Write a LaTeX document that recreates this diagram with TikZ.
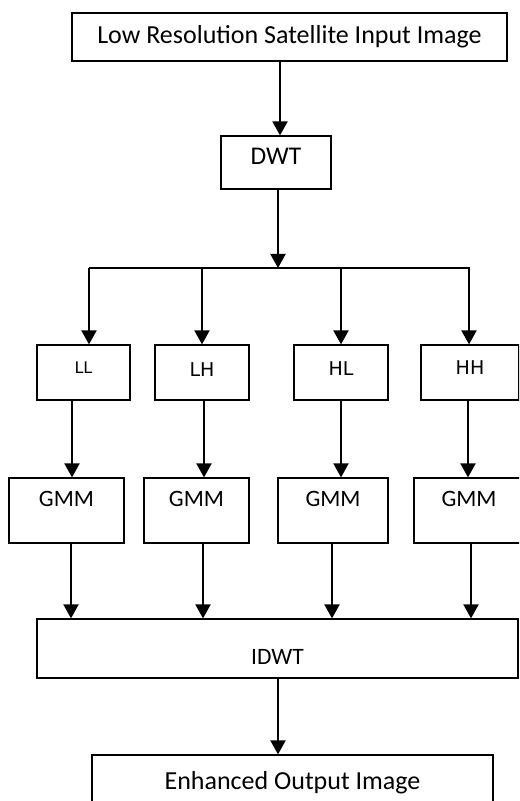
\documentclass[tikz,border=0pt]{standalone}
\usepackage{fontspec}
\setmainfont{Carlito}
\newfontfamily\djv{DejaVu Sans}
\usetikzlibrary{arrows.meta}

\begin{document}
\begin{tikzpicture}[x=0.5pt, y=-0.5pt,
    blk/.style = {draw, rectangle, line width=0.6pt, inner sep=0pt},
    arr/.style = {line width=1pt, -{Triangle[width=7.5pt, length=7pt]}}]
  \useasboundingbox (0,0) rectangle (519,801);
  \clip (0,0) rectangle (519,801);

  \node[blk, minimum width=217.5pt, minimum height=24pt, font=\fontsize{13}{15}\selectfont,
        text height=8.4pt, text depth=1.5pt] (in) at (289.5,37) {Low Resolution Satellite Input Image};
  \node[blk, minimum width=55pt, minimum height=26.5pt, font=\fontsize{12.75}{15}\selectfont,
        text height=8.2pt, text depth=6.5pt] (dwt) at (276,162.5) {DWT};

  \node[blk, minimum width=46.5pt, minimum height=27.5pt, font=\djv\fontsize{8}{10}\selectfont,
        text height=5.8pt, text depth=4.5pt] (ll) at (83.5,372.5) {LL};
  \node[blk, minimum width=47pt, minimum height=27.5pt, font=\djv\fontsize{9.5}{11}\selectfont,
        text height=6.9pt, text depth=2.5pt] (lh) at (202,372.5) {LH};
  \node[blk, minimum width=47pt, minimum height=27.5pt, font=\djv\fontsize{9.5}{11}\selectfont,
        text height=6.9pt, text depth=4pt] (hl) at (341,372.5) {HL};
  \node[blk, minimum width=49pt, minimum height=27.5pt, font=\djv\fontsize{9.5}{11}\selectfont,
        text height=6.9pt, text depth=5pt] (hh) at (470,372.5) {HH};

  \node[blk, minimum width=57.5pt, minimum height=32.5pt, font=\fontsize{11.75}{14}\selectfont,
        text height=7.6pt, text depth=11.5pt] (g1) at (66.5,510.5) {GMM};
  \node[blk, minimum width=52.5pt, minimum height=32.5pt, font=\fontsize{11.75}{14}\selectfont,
        text height=7.6pt, text depth=11.5pt] (g2) at (196.5,510.5) {GMM};
  \node[blk, minimum width=55pt, minimum height=32.5pt, font=\fontsize{11.75}{14}\selectfont,
        text height=7.6pt, text depth=11.5pt] (g3) at (333,510.5) {GMM};
  \node[blk, minimum width=55pt, minimum height=32.5pt, font=\fontsize{11.75}{14}\selectfont,
        text height=7.6pt, text depth=11.5pt] (g4) at (469,510.5) {GMM};

  \node[blk, minimum width=240.5pt, minimum height=29.5pt, font=\fontsize{11.75}{14}\selectfont,
        text height=15.6pt, text depth=0pt] (idwt) at (277.5,648.5) {IDWT};
  \node[blk, minimum width=200.5pt, minimum height=30pt, font=\fontsize{13}{15}\selectfont,
        text height=8.4pt, text depth=4pt] (out) at (292.5,785) {Enhanced Output Image};

  \coordinate (t)   at (280,0);
  \coordinate (bus) at (278,268);
  \coordinate (b1)  at (89,268);
  \coordinate (b2)  at (202,268);
  \coordinate (b3)  at (341,268);
  \coordinate (b4)  at (469,268);
  \coordinate (b5)  at (470,268);
  \foreach \n/\x in {1/72,2/204,3/341,4/468} \coordinate (c\n) at (\x,0);
  \foreach \n/\x in {1/71,2/203,3/332,4/471} \coordinate (d\n) at (\x,0);

  \draw[arr] (in.south -| t) -- (dwt.north -| t);
  \draw[arr] (dwt.south -| bus) -- (bus);
  \draw[line width=1pt] (b1) -- (b5);
  \draw[arr] (b1) -- (ll.north -| b1);
  \draw[arr] (b2) -- (lh.north -| b2);
  \draw[arr] (b3) -- (hl.north -| b3);
  \draw[arr] (b4) -- (hh.north -| b4);

  \draw[arr] (ll.south -| c1) -- (g1.north -| c1);
  \draw[arr] (lh.south -| c2) -- (g2.north -| c2);
  \draw[arr] (hl.south -| c3) -- (g3.north -| c3);
  \draw[arr] (hh.south -| c4) -- (g4.north -| c4);

  \draw[arr] (g1.south -| d1) -- (idwt.north -| d1);
  \draw[arr] (g2.south -| d2) -- (idwt.north -| d2);
  \draw[arr] (g3.south -| d3) -- (idwt.north -| d3);
  \draw[arr] (g4.south -| d4) -- (idwt.north -| d4);

  \draw[arr] (idwt.south -| bus) -- (out.north -| bus);
\end{tikzpicture}
\end{document}
